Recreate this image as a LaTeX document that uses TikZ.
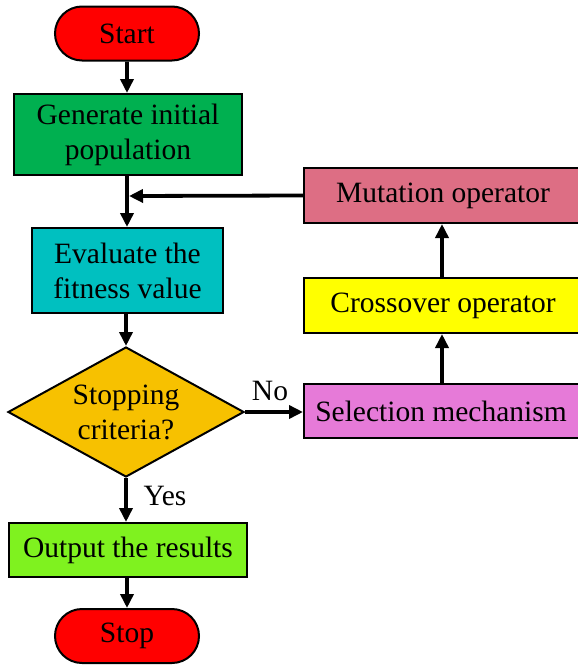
\documentclass[tikz,border=0pt]{standalone}
\usepackage{fontspec}
\setmainfont{Liberation Serif}
\usetikzlibrary{shapes.geometric,shapes.misc,arrows.meta}
\definecolor{cStart}{HTML}{FF0000}
\definecolor{cGen}{HTML}{00B050}
\definecolor{cEval}{HTML}{00C0C0}
\definecolor{cDia}{HTML}{F7C100}
\definecolor{cOut}{HTML}{7FF21F}
\definecolor{cSel}{HTML}{E67AD8}
\definecolor{cCross}{HTML}{FFFF00}
\definecolor{cMut}{HTML}{DD6E84}
\tikzset{
  base/.style={draw=black, line width=2pt, inner sep=0pt, align=center,
    font=\fontsize{29.5}{35}\selectfont},
  term/.style={base, rounded rectangle, minimum width=144pt, minimum height=54pt, fill=cStart},
  proc/.style={base, rectangle},
  dec/.style={base, diamond, aspect=1.82, minimum width=236pt, minimum height=130pt, fill=cDia},
  lbl/.style={inner sep=0pt, font=\fontsize{29.5}{35}\selectfont},
  arr/.style={line width=3.8pt, -{Triangle[length=14pt,width=13pt]}}
}
\begin{document}
\begin{tikzpicture}[x=1pt,y=-1pt]
\useasboundingbox (0,0) rectangle (578,667);
\node[term] (start) at (127,33.5) {Start};
\node[proc, fill=cGen, minimum width=228pt, minimum height=81pt] (gen) at (128,134.5) {Generate initial\\population};
\node[proc, fill=cEval, minimum width=191pt, minimum height=85pt] (eval) at (127.5,270.5) {Evaluate the\\fitness value};
\node[dec] (dec) at (126,412) {Stopping\\criteria?};
\node[proc, fill=cOut, minimum width=238pt, minimum height=54pt] (out) at (128,550) {Output the results};
\node[term] (stop) at (127,636) {Stop};
\node[proc, fill=cSel, minimum width=278pt, minimum height=54pt] (sel) at (443,411) {\hspace*{-4pt}Selection mechanism};
\node[proc, fill=cCross, minimum width=278pt, minimum height=55pt] (cross) at (443,305.5) {Crossover operator};
\node[proc, fill=cMut, minimum width=278pt, minimum height=55pt] (mut) at (443,195.5) {Mutation operator};
\node[lbl] (no) at (270,391) {No};
\node[lbl] (yes) at (165,496) {Yes};
\coordinate (j) at (127,196);
\draw[arr] (start) -- (gen.north -| start);
\draw[arr] (gen.south -| j) -- (eval.north -| j);
\draw[arr] (mut.west) -- ([xshift=2pt]j);
\draw[arr] (eval.south -| dec) -- (dec.north);
\draw[arr] (dec.south) -- (out.north -| dec);
\draw[arr] (out.south -| stop) -- (stop.north);
\draw[arr] (dec.east) -- (sel.west |- dec.east);
\draw[arr] (sel.north -| 442,0) -- (cross.south -| 442,0);
\draw[arr] (cross.north -| 442,0) -- (mut.south -| 442,0);
\end{tikzpicture}
\end{document}
